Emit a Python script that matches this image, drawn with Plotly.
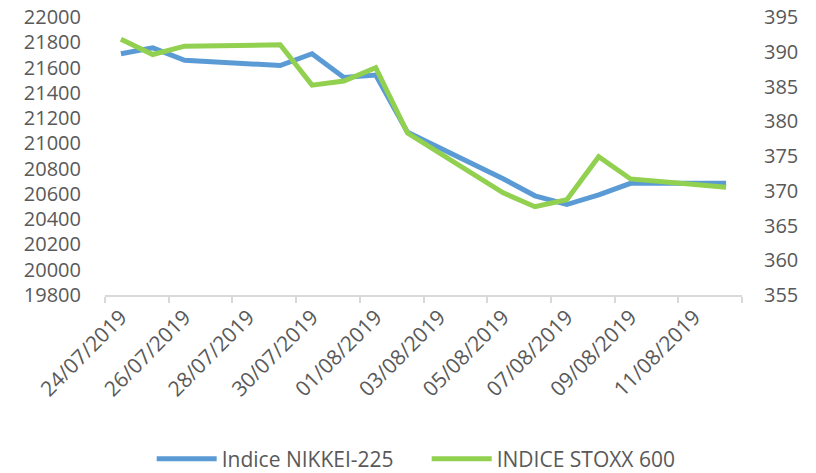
import plotly.graph_objects as go

dates = ["2019-07-24", "2019-07-25", "2019-07-26", "2019-07-29", "2019-07-30",
         "2019-07-31", "2019-08-01", "2019-08-02", "2019-08-05", "2019-08-06",
         "2019-08-07", "2019-08-08", "2019-08-09", "2019-08-12"]
nikkei = [21709, 21756, 21658, 21616, 21709, 21521, 21540, 21087, 20720, 20585,
          20516, 20593, 20684, 20684]
stoxx = [391.8, 389.6, 390.8, 391.0, 385.2, 385.8, 387.7, 378.3, 369.7, 367.7,
         368.7, 374.9, 371.7, 370.5]

label_dates = ["2019-07-24", "2019-07-26", "2019-07-28", "2019-07-30", "2019-08-01",
               "2019-08-03", "2019-08-05", "2019-08-07", "2019-08-09", "2019-08-11"]
label_text = ["24/07/2019", "26/07/2019", "28/07/2019", "30/07/2019", "01/08/2019",
              "03/08/2019", "05/08/2019", "07/08/2019", "09/08/2019", "11/08/2019"]
tick_marks = ["2019-07-23 12:00", "2019-07-25 12:00", "2019-07-27 12:00", "2019-07-29 12:00",
              "2019-07-31 12:00", "2019-08-02 12:00", "2019-08-04 12:00", "2019-08-06 12:00",
              "2019-08-08 12:00", "2019-08-10 12:00", "2019-08-12 12:00"]
left_ticks = list(range(19800, 22001, 200))
right_ticks = list(range(355, 396, 5))

font_family = "Open Sans"
text_color = "#595959"

fig = go.Figure()
fig.add_trace(go.Scatter(x=dates, y=nikkei, name="Indice NIKKEI-225", mode="lines",
                         line=dict(color="#5B9BD5", width=5), yaxis="y"))
fig.add_trace(go.Scatter(x=dates, y=stoxx, name="INDICE STOXX 600", mode="lines",
                         line=dict(color="#92D050", width=5), yaxis="y2"))

fig.update_layout(
    width=816, height=473,
    margin=dict(l=105, r=74, t=17, b=178, autoexpand=False),
    paper_bgcolor="white", plot_bgcolor="white",
    font=dict(family=font_family, size=20, color=text_color),
    showlegend=True,
    legend=dict(orientation="h", x=0.505, xanchor="center", y=-0.59,
                yanchor="middle", font=dict(size=21, color=text_color),
                itemwidth=60, entrywidth=200, entrywidthmode="pixels"),
    xaxis=dict(
        type="date", automargin=False,
        range=["2019-07-23 12:00", "2019-08-12 12:00"],
        tickvals=label_dates, ticktext=label_text, tickangle=-45,
        ticks="", showgrid=False, zeroline=False,
        showline=True, linecolor="#d9d9d9", linewidth=1.5,
        tickfont=dict(size=21, color=text_color),
        minor=dict(tickvals=tick_marks, ticks="outside", ticklen=6, tickcolor="#d9d9d9",
                   tickwidth=1.5, showgrid=False),
    ),
    yaxis=dict(
        range=[19800, 22000], tickvals=left_ticks, tickformat="d", automargin=False,
        showgrid=False, zeroline=False, ticklabeloverflow="allow",
        showline=False, ticks="", tickfont=dict(size=20, color=text_color),
        ticklabelstandoff=23,
    ),
    yaxis2=dict(
        range=[355, 395], tickvals=right_ticks, tickformat="d", overlaying="y", side="right",
        automargin=False, showgrid=False, zeroline=False, showline=False, ticks="",
        ticklabeloverflow="allow",
        tickfont=dict(size=20, color=text_color), ticklabelstandoff=21,
    ),
)

fig.write_html("out.html", config={"displayModeBar": False},
               post_script="document.body.style.margin='0';document.documentElement.style.overflow='hidden';")
